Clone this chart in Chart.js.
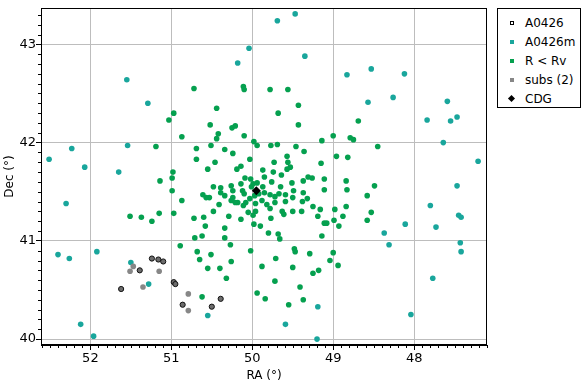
<!DOCTYPE html>
<html><head><meta charset="utf-8">
<script src="https://cdn.jsdelivr.net/npm/chart.js@4.4.1/dist/chart.umd.min.js"></script>
<style>
html,body{margin:0;padding:0;background:#fff;}
#wrap{position:relative;width:583px;height:386px;}
#legend{position:absolute;left:497px;top:8px;width:82px;height:98px;border:1px solid #000;background:#fff;font:12px "DejaVu Sans",sans-serif;color:#000;}
.row{position:absolute;left:0;width:80px;height:16px;line-height:16px;}
.mk{position:absolute;left:12px;top:6px;width:4px;height:4px;box-sizing:border-box;}
.lb{position:absolute;left:27px;top:0;white-space:nowrap;}
</style></head>
<body><div id="wrap"><canvas id="c" width="583" height="386"></canvas><div id="legend"></div></div>
<script>
// ---- data (RA, Dec in degrees) ----
const legendLabels = ["A0426", "A0426m", "R < Rv", "subs (2)", "CDG"];
const xTicks = [48, 49, 50, 51, 52];
const yTicks = [40, 41, 42, 43];

const a0426m = [
 [49.69,43.24],[49.47,43.31],[50.04,42.96],[50.18,42.81],[49.35,42.88],[48.83,42.69],[48.53,42.75],
 [48.57,42.41],[48.12,42.70],[48.26,42.46],[47.59,42.42],[47.84,42.23],[47.55,42.22],[47.47,42.26],
 [47.64,42.00],[47.21,41.81],[47.47,41.56],[47.80,41.36],[47.45,41.26],[47.42,41.24],[48.11,41.17],
 [47.73,41.14],[48.37,41.08],[48.31,40.96],[47.43,40.98],[47.42,40.89],[47.77,40.62],[48.04,40.25],
 [49.19,40.33],[49.59,40.15],[49.20,40.00],[51.55,42.64],[51.29,42.40],[52.51,41.83],[52.23,41.94],
 [52.07,41.75],[51.54,41.97],[51.65,41.70],[52.30,41.38],[52.40,40.86],[52.26,40.82],[51.92,40.89],
 [51.50,40.78],[51.28,40.56],[52.12,40.15],[51.96,40.03],[50.55,40.24]
];

const rrv = [
 [50.72,42.55],[50.97,42.30],[51.03,42.23],[50.87,42.06],[51.19,41.96],[50.69,41.94],[50.69,41.83],
 [50.98,41.70],[50.99,41.64],[51.14,41.61],[50.99,41.51],[50.87,41.41],[50.11,42.57],[50.10,42.54],
 [49.78,42.54],[49.56,42.54],[50.44,42.35],[49.43,42.38],[49.68,42.30],[50.52,42.18],[50.25,42.15],
 [50.21,42.17],[49.43,42.18],[50.42,42.09],[50.44,42.04],[50.10,42.07],[49.00,42.07],[49.14,42.02],
 [48.79,42.05],[48.75,42.03],[48.69,42.22],[48.45,41.96],[50.51,41.97],[50.34,41.93],[49.98,42.01],
 [49.94,41.97],[49.77,41.97],[49.69,41.98],[49.46,41.96],[49.36,41.91],[48.96,41.86],[48.82,41.85],
 [50.46,41.80],[50.24,41.89],[50.03,41.83],[49.57,41.86],[49.56,41.80],[49.73,41.80],[49.15,41.79],
 [50.55,41.73],[50.19,41.73],[50.14,41.76],[49.53,41.75],[49.57,41.73],[49.74,41.70],[49.87,41.72],
 [49.64,41.67],[49.85,41.65],[50.09,41.64],[50.02,41.63],[49.31,41.65],[49.26,41.64],[49.11,41.63],
 [48.84,41.61],[50.14,41.58],[49.99,41.58],[49.94,41.59],[49.76,41.60],[49.51,41.59],[49.37,41.61],
 [50.48,41.55],[50.39,41.54],[50.26,41.56],[50.01,41.55],[49.87,41.55],[49.65,41.55],[49.11,41.52],
 [48.83,41.52],[48.49,41.56],[50.61,41.47],[50.53,41.44],[50.57,41.44],[50.39,41.49],[50.24,41.51],
 [50.12,41.51],[49.85,41.49],[49.78,41.47],[49.67,41.48],[49.49,41.51],[49.37,41.49],[49.32,41.43],
 [48.58,41.46],[50.34,41.46],[50.24,41.44],[50.10,41.48],[49.92,41.48],[49.72,41.45],[49.97,41.46],
 [49.59,41.47],[49.50,41.44],[49.38,41.40],[50.18,41.39],[50.08,41.39],[50.03,41.43],[50.41,41.37],
 [50.26,41.41],[50.21,41.39],[50.11,41.36],[50.48,41.30],[50.29,41.25],[50.05,41.29],[49.99,41.26],
 [50.72,41.23],[50.60,41.24],[49.96,41.38],[49.96,41.30],[49.88,41.41],[49.82,41.37],[49.72,41.39],
 [49.59,41.40],[49.25,41.35],[49.16,41.32],[49.78,41.33],[49.63,41.30],[49.61,41.27],[49.50,41.30],
 [49.39,41.30],[49.77,41.23],[49.19,41.25],[50.14,41.22],[49.98,41.17],[49.90,41.15],[50.58,41.15],
 [50.34,41.13],[50.71,41.03],[50.62,41.05],[50.34,41.03],[50.89,40.95],[50.27,40.96],[50.02,40.90],
 [50.68,40.89],[50.51,40.86],[50.65,40.81],[50.26,40.79],[50.55,40.72],[50.40,40.72],[49.11,41.18],
 [49.08,41.18],[49.80,41.08],[49.68,41.07],[49.66,41.02],[49.14,41.05],[49.48,40.92],[49.47,40.89],
 [49.29,40.87],[49.71,40.82],[49.88,40.74],[49.50,40.73],[49.04,40.80],[48.98,41.32],[48.99,41.21],
 [48.88,41.25],[48.84,41.35],[48.53,41.29],[48.58,41.21],[48.93,41.15],[49.00,40.88],[48.94,40.75],
 [49.18,40.70],[49.25,40.67],[49.72,40.59],[49.41,40.53],[49.37,40.40],[49.94,40.47],[49.84,40.41],
 [49.55,40.35],[50.32,40.62],[50.62,40.43],[51.51,41.25],[51.37,41.24],[51.24,41.20],[51.15,41.28],
 [50.97,41.28]
];

const subs = [
 [51.51,40.69],[51.47,40.74],[51.35,40.53],[51.15,40.69],[50.79,40.46],[50.79,40.29]
];

const a0426 = [
 [51.62,40.51],[51.39,40.70],[51.24,40.82],[51.16,40.81],[51.10,40.79],[50.97,40.58],
 [50.95,40.56],[50.86,40.35],[50.50,40.33],[50.39,40.41]
];

const cdg = [[49.95,41.51]];

// ---- colours ----
const colTeal = '#19a69c', colGreen = '#05a04f', colGray = '#878787';

const toPts = arr => arr.map(p => ({x: p[0], y: p[1]}));
const FONT = {family: 'DejaVu Sans', size: 12};
const TICKFONT = {family: 'DejaVu Sans', size: 13};

const extras = {
  id: 'extras',
  afterDraw(chart) {
    const {ctx, chartArea: a, scales: {x, y}} = chart;
    ctx.save();
    ctx.strokeStyle = '#000';
    ctx.lineWidth = 1;
    ctx.beginPath();
    for (let i = 470; i <= 530; i++) {
      if (i % 10 === 0) continue;
      const px = x.getPixelForValue(i / 10);
      if (px < a.left || px > a.right) continue;
      const X = Math.round(px) + 0.5;
      ctx.moveTo(X, a.bottom); ctx.lineTo(X, a.bottom + 3);
    }
    for (let i = 399; i <= 434; i++) {
      if (i % 10 === 0) continue;
      const py = y.getPixelForValue(i / 10);
      if (py < a.top || py > a.bottom) continue;
      const Y = Math.round(py) + 0.5;
      ctx.moveTo(a.left, Y); ctx.lineTo(a.left - 3, Y);
    }
    ctx.stroke();
    ctx.strokeRect(Math.round(a.left) + 0.5, Math.round(a.top) + 0.5,
                   Math.round(a.right - a.left) - 1, Math.round(a.bottom - a.top) - 1);
    ctx.restore();
  }
};

new Chart(document.getElementById('c'), {
  type: 'scatter',
  data: {
    datasets: [
      {label: legendLabels[4], data: toPts(cdg), pointStyle: 'rectRot', pointRadius: 4.5,
       backgroundColor: '#000', borderColor: '#000', borderWidth: 0},
      {label: legendLabels[0], data: toPts(a0426), pointRadius: 2.6,
       backgroundColor: '#6c6c6c', borderColor: '#111', borderWidth: 1},
      {label: legendLabels[3], data: toPts(subs), pointRadius: 2.8,
       backgroundColor: colGray, borderColor: colGray, borderWidth: 0},
      {label: legendLabels[2], data: toPts(rrv), pointRadius: 2.8,
       backgroundColor: colGreen, borderColor: colGreen, borderWidth: 0},
      {label: legendLabels[1], data: toPts(a0426m), pointRadius: 2.8,
       backgroundColor: colTeal, borderColor: colTeal, borderWidth: 0}
    ]
  },
  options: {
    responsive: false, animation: false, events: [],
    layout: {padding: {top: 8, right: 96, left: 0, bottom: 0}},
    plugins: {legend: {display: false}, tooltip: {enabled: false}},
    scales: {
      x: {
        type: 'linear', reverse: true, min: 47.10, max: 52.61,
        afterBuildTicks: s => { s.ticks = xTicks.map(v => ({value: v})); },
        afterFit: s => { s.height = 41; },
        grid: {color: '#bdbdbd', lineWidth: 1, tickColor: '#000', tickLength: 5, drawTicks: true},
        border: {display: true, color: '#000', width: 1},
        ticks: {font: TICKFONT, color: '#000', padding: 1, maxRotation: 0, autoSkip: false,
                callback: v => String(v)},
        title: {display: true, text: 'RA (°)', font: FONT, color: '#000', padding: {top: 0, bottom: 3}}
      },
      y: {
        type: 'linear', min: 39.94, max: 43.37,
        afterBuildTicks: s => { s.ticks = yTicks.map(v => ({value: v})); },
        afterFit: s => { s.width = 41; },
        grid: {color: '#bdbdbd', lineWidth: 1, tickColor: '#000', tickLength: 5, drawTicks: true},
        border: {display: true, color: '#000', width: 1},
        ticks: {font: TICKFONT, color: '#000', padding: 0, autoSkip: false, callback: v => String(v)},
        title: {display: true, text: 'Dec (°)', font: FONT, color: '#000', padding: {top: 3, bottom: 0}}
      }
    }
  },
  plugins: [extras]
});

// ---- legend ----
const legendStyles = [
  'border:1px solid #000;background:#fff;',
  'background:' + colTeal + ';',
  'background:' + colGreen + ';',
  'background:' + colGray + ';',
  'background:#000;transform:rotate(45deg);width:5px;height:5px;left:11px;top:5px;'
];
const lg = document.getElementById('legend');
legendLabels.forEach((t, i) => {
  const row = document.createElement('div');
  row.className = 'row';
  row.style.top = (6 + i * 19.1) + 'px';
  const mk = document.createElement('div');
  mk.className = 'mk';
  mk.setAttribute('style', legendStyles[i]);
  const lb = document.createElement('div');
  lb.className = 'lb';
  lb.textContent = t;
  row.appendChild(mk); row.appendChild(lb);
  lg.appendChild(row);
});
</script>
</body></html>
